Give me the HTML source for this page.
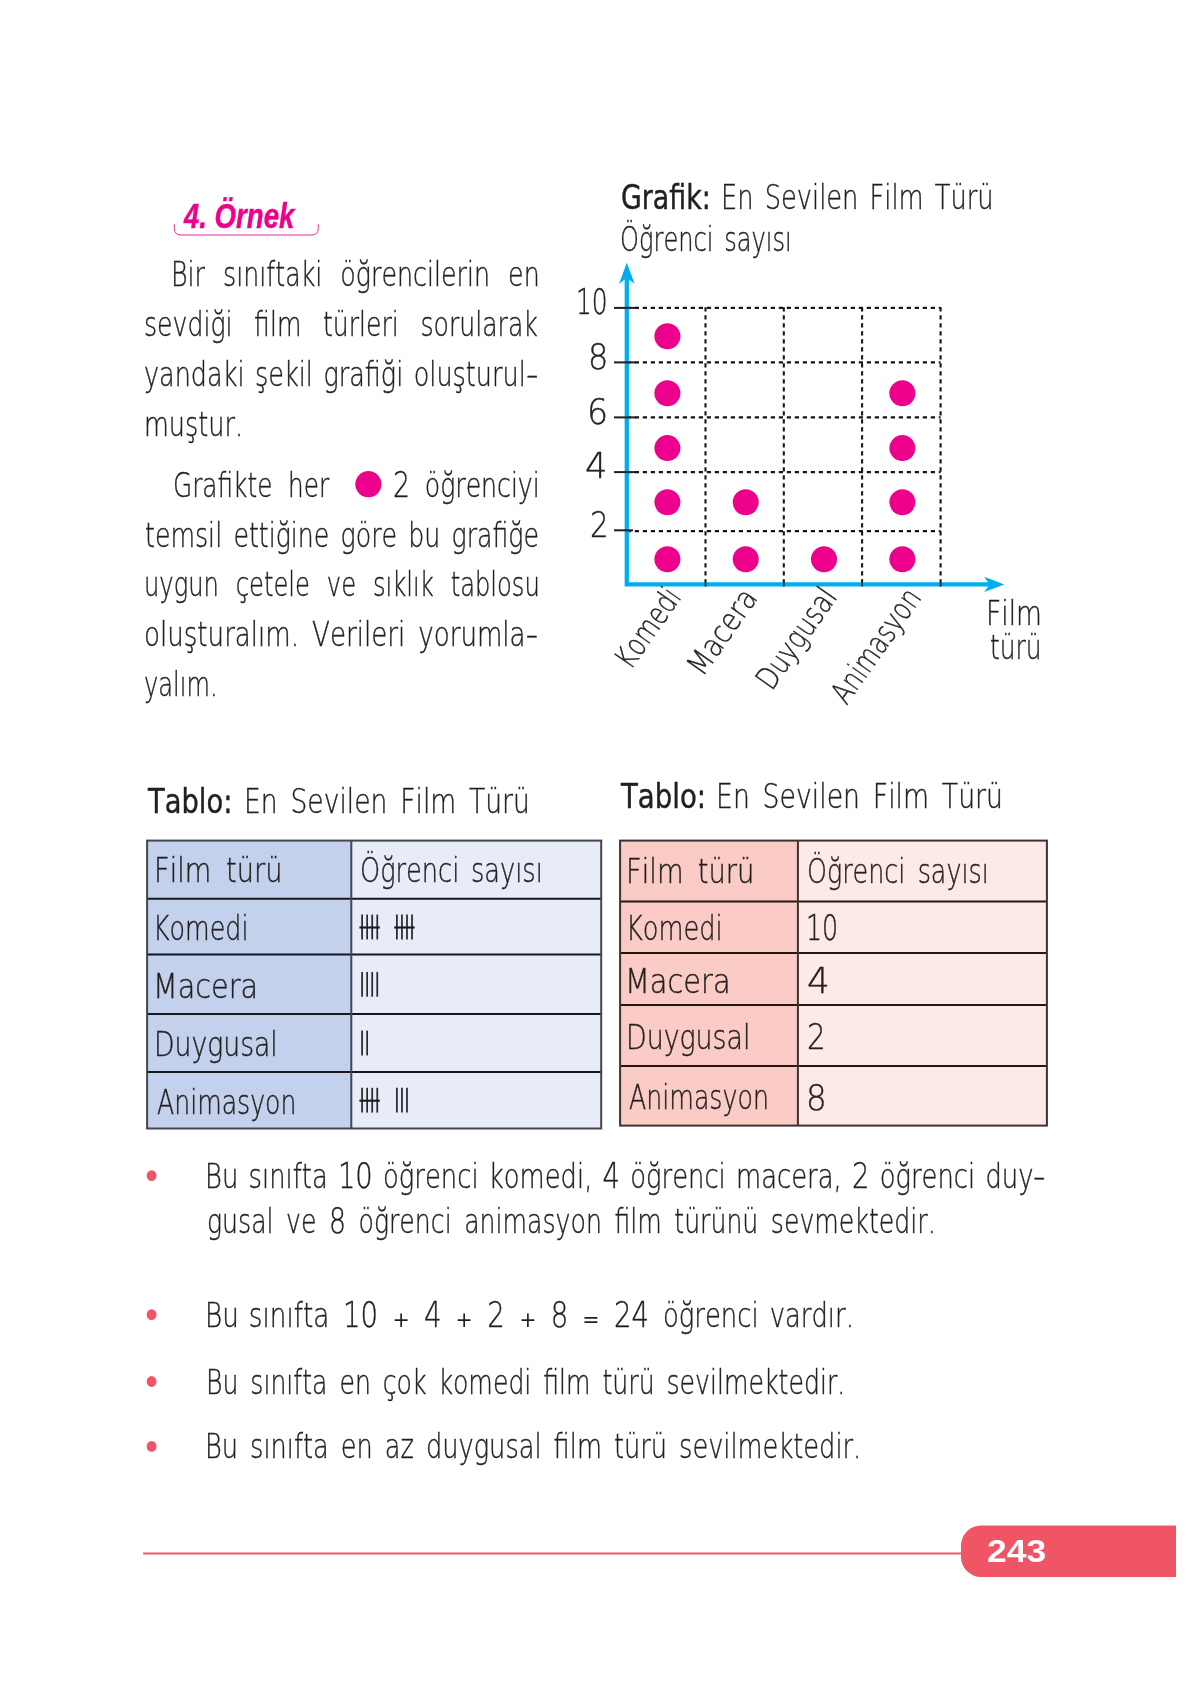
<!DOCTYPE html>
<html lang="tr"><head><meta charset="utf-8"><title>4. Örnek</title>
<style>
html,body{margin:0;padding:0;background:#fff}
#page{position:relative;width:1190px;height:1684px;overflow:hidden;background:#fff}
#page svg{position:absolute;left:0;top:0}
#txt{position:absolute;left:0;top:0;width:1190px;height:1684px;will-change:transform}
.t{position:absolute;white-space:pre;line-height:normal;transform-origin:0 0;color:#231f20;font-kerning:none}
.light{-webkit-text-stroke:0.4px #231f20}
.head{-webkit-text-stroke:0.45px #ec008c}
.book{-webkit-text-stroke:0.45px #231f20}
.light{font-family:'DejaVu Sans Light','DejaVu Sans',sans-serif;font-weight:200}
.book{font-family:'DejaVu Sans',sans-serif;font-weight:400}
.head{font-family:'Liberation Sans',sans-serif;font-weight:700;font-style:italic}
.num{font-family:'Liberation Sans',sans-serif;font-weight:700}
.d{font-size:35px}
.hy{display:inline-block;transform:scaleX(1.35);transform-origin:86% 50%;margin-left:3.5px}
.op{font-family:'DejaVu Sans',sans-serif;font-weight:400;-webkit-text-stroke:0;font-size:21.5px;display:inline-block;transform:scaleX(1.22);position:relative;top:-0.1px}
.dash{stroke:#161616;stroke-width:2.1;stroke-dasharray:4.2 3.8}
</style></head>
<body><div id="page">
<svg width="1190" height="1684" viewBox="0 0 1190 1684">
<rect x="147.1" y="840.6" width="204.20000000000002" height="287.9" fill="#c3d1ed"/>
<rect x="351.3" y="840.6" width="249.90000000000003" height="287.9" fill="#e8ecf8"/>
<line x1="147.1" y1="898.7" x2="601.2" y2="898.7" stroke="#17171d" stroke-width="2"/>
<line x1="147.1" y1="954.4" x2="601.2" y2="954.4" stroke="#17171d" stroke-width="2"/>
<line x1="147.1" y1="1014.1" x2="601.2" y2="1014.1" stroke="#17171d" stroke-width="2"/>
<line x1="147.1" y1="1072.0" x2="601.2" y2="1072.0" stroke="#17171d" stroke-width="2"/>
<line x1="351.3" y1="840.6" x2="351.3" y2="1128.5" stroke="#45464c" stroke-width="2"/>
<rect x="147.1" y="840.6" width="454.1" height="287.9" fill="none" stroke="#45464c" stroke-width="2"/>
<rect x="620.1" y="840.6" width="177.79999999999995" height="284.9999999999999" fill="#fbcbc6"/>
<rect x="797.9" y="840.6" width="249.0000000000001" height="284.9999999999999" fill="#fde9e6"/>
<line x1="620.1" y1="901.5" x2="1046.9" y2="901.5" stroke="#231616" stroke-width="2"/>
<line x1="620.1" y1="953.1" x2="1046.9" y2="953.1" stroke="#231616" stroke-width="2"/>
<line x1="620.1" y1="1004.9" x2="1046.9" y2="1004.9" stroke="#231616" stroke-width="2"/>
<line x1="620.1" y1="1066.1" x2="1046.9" y2="1066.1" stroke="#231616" stroke-width="2"/>
<line x1="797.9" y1="840.6" x2="797.9" y2="1125.6" stroke="#3d3233" stroke-width="2"/>
<rect x="620.1" y="840.6" width="426.80000000000007" height="284.9999999999999" fill="none" stroke="#3d3233" stroke-width="2"/>
<line x1="362.10" y1="914.6" x2="362.10" y2="939.4" stroke="#2d282c" stroke-width="1.75"/>
<line x1="367.15" y1="914.6" x2="367.15" y2="939.4" stroke="#2d282c" stroke-width="1.75"/>
<line x1="372.20" y1="914.6" x2="372.20" y2="939.4" stroke="#2d282c" stroke-width="1.75"/>
<line x1="377.25" y1="914.6" x2="377.25" y2="939.4" stroke="#2d282c" stroke-width="1.75"/>
<line x1="359.40" y1="927.5" x2="379.85" y2="927.5" stroke="#1c181b" stroke-width="2.1"/>
<line x1="396.90" y1="914.6" x2="396.90" y2="939.4" stroke="#2d282c" stroke-width="1.75"/>
<line x1="401.95" y1="914.6" x2="401.95" y2="939.4" stroke="#2d282c" stroke-width="1.75"/>
<line x1="407.00" y1="914.6" x2="407.00" y2="939.4" stroke="#2d282c" stroke-width="1.75"/>
<line x1="412.05" y1="914.6" x2="412.05" y2="939.4" stroke="#2d282c" stroke-width="1.75"/>
<line x1="394.20" y1="927.5" x2="414.65" y2="927.5" stroke="#1c181b" stroke-width="2.1"/>
<line x1="362.10" y1="971.9" x2="362.10" y2="996.6999999999999" stroke="#2d282c" stroke-width="1.75"/>
<line x1="367.15" y1="971.9" x2="367.15" y2="996.6999999999999" stroke="#2d282c" stroke-width="1.75"/>
<line x1="372.20" y1="971.9" x2="372.20" y2="996.6999999999999" stroke="#2d282c" stroke-width="1.75"/>
<line x1="377.25" y1="971.9" x2="377.25" y2="996.6999999999999" stroke="#2d282c" stroke-width="1.75"/>
<line x1="362.10" y1="1030.6" x2="362.10" y2="1055.3999999999999" stroke="#2d282c" stroke-width="1.75"/>
<line x1="367.15" y1="1030.6" x2="367.15" y2="1055.3999999999999" stroke="#2d282c" stroke-width="1.75"/>
<line x1="362.10" y1="1087.8" x2="362.10" y2="1112.6" stroke="#2d282c" stroke-width="1.75"/>
<line x1="367.15" y1="1087.8" x2="367.15" y2="1112.6" stroke="#2d282c" stroke-width="1.75"/>
<line x1="372.20" y1="1087.8" x2="372.20" y2="1112.6" stroke="#2d282c" stroke-width="1.75"/>
<line x1="377.25" y1="1087.8" x2="377.25" y2="1112.6" stroke="#2d282c" stroke-width="1.75"/>
<line x1="359.40" y1="1100.7" x2="379.85" y2="1100.7" stroke="#1c181b" stroke-width="2.1"/>
<line x1="396.90" y1="1087.8" x2="396.90" y2="1112.6" stroke="#2d282c" stroke-width="1.75"/>
<line x1="401.95" y1="1087.8" x2="401.95" y2="1112.6" stroke="#2d282c" stroke-width="1.75"/>
<line x1="407.00" y1="1087.8" x2="407.00" y2="1112.6" stroke="#2d282c" stroke-width="1.75"/>
<line x1="626.8" y1="307.9" x2="940.6" y2="307.9" class="dash"/>
<line x1="626.8" y1="362.4" x2="940.6" y2="362.4" class="dash"/>
<line x1="626.8" y1="417.4" x2="940.6" y2="417.4" class="dash"/>
<line x1="626.8" y1="472.1" x2="940.6" y2="472.1" class="dash"/>
<line x1="626.8" y1="531.1" x2="940.6" y2="531.1" class="dash"/>
<line x1="705.5" y1="307.2" x2="705.5" y2="586.4" class="dash"/>
<line x1="783.8" y1="307.2" x2="783.8" y2="586.4" class="dash"/>
<line x1="862.1" y1="307.2" x2="862.1" y2="586.4" class="dash"/>
<line x1="940.6" y1="307.2" x2="940.6" y2="586.4" class="dash"/>
<path d="M626.8 276 V584.4 H992" fill="none" stroke="#00aeef" stroke-width="4.3" stroke-linejoin="miter"/>
<path d="M626.8 262.8 L634.5999999999999 283.8 L626.8 278 L619.0 283.8 Z" fill="#00aeef"/>
<path d="M1004.4 584.4 L984.2 592.0 L989.6 584.4 L984.2 576.8 Z" fill="#00aeef"/>
<line x1="705.5" y1="582.1999999999999" x2="705.5" y2="586.6" stroke="#231f20" stroke-width="1.7"/>
<line x1="783.8" y1="582.1999999999999" x2="783.8" y2="586.6" stroke="#231f20" stroke-width="1.7"/>
<line x1="862.1" y1="582.1999999999999" x2="862.1" y2="586.6" stroke="#231f20" stroke-width="1.7"/>
<line x1="940.6" y1="582.1999999999999" x2="940.6" y2="586.6" stroke="#231f20" stroke-width="1.7"/>
<line x1="614" y1="307.9" x2="636" y2="307.9" stroke="#231f20" stroke-width="2"/>
<line x1="614" y1="362.4" x2="636" y2="362.4" stroke="#231f20" stroke-width="2"/>
<line x1="614" y1="417.4" x2="636" y2="417.4" stroke="#231f20" stroke-width="2"/>
<line x1="614" y1="472.1" x2="636" y2="472.1" stroke="#231f20" stroke-width="2"/>
<line x1="614" y1="530.3000000000001" x2="633" y2="530.3000000000001" stroke="#231f20" stroke-width="2"/>
<circle cx="667.4" cy="559.3" r="13" fill="#ec008c"/>
<circle cx="667.4" cy="502.2" r="13" fill="#ec008c"/>
<circle cx="667.4" cy="448.1" r="13" fill="#ec008c"/>
<circle cx="667.4" cy="393.2" r="13" fill="#ec008c"/>
<circle cx="667.4" cy="336.2" r="13" fill="#ec008c"/>
<circle cx="745.7" cy="559.3" r="13" fill="#ec008c"/>
<circle cx="745.7" cy="502.2" r="13" fill="#ec008c"/>
<circle cx="824.0" cy="559.3" r="13" fill="#ec008c"/>
<circle cx="902.4" cy="559.3" r="13" fill="#ec008c"/>
<circle cx="902.4" cy="502.2" r="13" fill="#ec008c"/>
<circle cx="902.4" cy="448.1" r="13" fill="#ec008c"/>
<circle cx="902.4" cy="393.2" r="13" fill="#ec008c"/>
<circle cx="368.4" cy="484.2" r="13.1" fill="#ec008c"/>
<path d="M174.4 224.3 V228.4 Q174.4 235 181 235 H311.7 Q318.3 235 318.3 228.4 V224.3" fill="none" stroke="#ee2a9b" stroke-width="1"/>
<ellipse cx="151.6" cy="1175.6" rx="4.9" ry="5.4" fill="#ef5564"/>
<ellipse cx="151.6" cy="1314.6" rx="4.9" ry="5.4" fill="#ef5564"/>
<ellipse cx="151.6" cy="1381.5" rx="4.9" ry="5.4" fill="#ef5564"/>
<ellipse cx="151.6" cy="1446.4" rx="4.9" ry="5.4" fill="#ef5564"/>
<line x1="143.1" y1="1553.5" x2="965" y2="1553.5" stroke="#ef5564" stroke-width="2"/>
<path d="M981 1525.6 H1176 V1576.9 H981 A20 20 0 0 1 961 1556.9 V1545.6 A20 20 0 0 1 981 1525.6 Z" fill="#ef5564"/>
</svg>
<div id="txt">
<div class="t head" style="left:183.98px;top:196.30px;transform:scaleX(0.7783);font-size:35.5px;color:#ec008c"><span class="d">4</span>. Örnek</div>
<div class="t light" style="left:170.93px;top:254.70px;transform:scaleX(0.7669);font-size:33px;word-spacing:13.01px">Bir sınıftaki öğrencilerin en</div>
<div class="t light" style="left:143.68px;top:304.60px;transform:scaleX(0.7620);font-size:33px;word-spacing:17.82px">sevdiği film türleri sorularak</div>
<div class="t light" style="left:144.43px;top:354.70px;transform:scaleX(0.7725);font-size:33px;word-spacing:3.10px">yandaki şekil grafiği oluşturul<span class="hy">-</span></div>
<div class="t light" style="left:143.58px;top:404.80px;transform:scaleX(0.7733);font-size:33px">muştur.</div>
<div class="t light" style="left:172.50px;top:465.60px;transform:scaleX(0.7499);font-size:33px;word-spacing:10.47px">Grafikte her</div>
<div class="t light" style="left:393.08px;top:464.60px;transform:scaleX(0.7623);font-size:33px;word-spacing:8.94px"><span class="d">2</span> öğrenciyi</div>
<div class="t light" style="left:145.14px;top:515.50px;transform:scaleX(0.7644);font-size:33px;word-spacing:4.21px">temsil ettiğine göre bu grafiğe</div>
<div class="t light" style="left:143.70px;top:565.10px;transform:scaleX(0.7332);font-size:33px;word-spacing:12.58px">uygun çetele ve sıklık tablosu</div>
<div class="t light" style="left:144.32px;top:615.20px;transform:scaleX(0.7909);font-size:33px;word-spacing:5.93px">oluşturalım. Verileri yorumla<span class="hy">-</span></div>
<div class="t light" style="left:144.27px;top:665.10px;transform:scaleX(0.7304);font-size:33px">yalım.</div>
<div class="t book" style="left:620.99px;top:177.70px;transform:scaleX(0.8130);font-size:33px">Grafik:</div>
<div class="t light" style="left:721.18px;top:177.70px;transform:scaleX(0.7790);font-size:33px;word-spacing:3.77px">En Sevilen Film Türü</div>
<div class="t light" style="left:620.34px;top:219.70px;transform:scaleX(0.7309);font-size:33px;word-spacing:4.18px">Öğrenci sayısı</div>
<div class="t light" style="left:575.77px;top:281.90px;transform:scaleX(0.7103);font-size:35px">10</div>
<div class="t light" style="left:588.46px;top:336.60px;transform:scaleX(0.9117);font-size:35px">8</div>
<div class="t light" style="left:586.56px;top:391.60px;transform:scaleX(0.9463);font-size:35px">6</div>
<div class="t light" style="left:585.29px;top:445.90px;transform:scaleX(1.0098);font-size:35px">4</div>
<div class="t light" style="left:589.63px;top:505.00px;transform:scaleX(0.8346);font-size:35px">2</div>
<div class="t light" style="left:985.98px;top:594.30px;transform:scaleX(0.8055);font-size:33px">Film</div>
<div class="t light" style="left:990.25px;top:628.40px;transform:scaleX(0.7543);font-size:33px">türü</div>
<div class="t light" style="left:606.54px;top:654.42px;transform:rotate(-55deg) scaleX(0.7695);font-size:31px">Komedi</div>
<div class="t light" style="left:678.98px;top:660.87px;transform:rotate(-55deg) scaleX(0.8564);font-size:31px">Macera</div>
<div class="t light" style="left:748.26px;top:675.44px;transform:rotate(-55deg) scaleX(0.8043);font-size:31px">Duygusal</div>
<div class="t light" style="left:823.04px;top:689.37px;transform:rotate(-55deg) scaleX(0.7668);font-size:31px">Animasyon</div>
<div class="t book" style="left:148.23px;top:782.00px;transform:scaleX(0.8295);font-size:33px">Tablo:</div>
<div class="t light" style="left:243.68px;top:782.00px;transform:scaleX(0.8060);font-size:33px;word-spacing:5.36px">En Sevilen Film Türü</div>
<div class="t light" style="left:153.60px;top:851.20px;transform:scaleX(0.8253);font-size:33px;word-spacing:7.29px">Film türü</div>
<div class="t light" style="left:153.06px;top:908.90px;transform:scaleX(0.7674);font-size:33px">Komedi</div>
<div class="t light" style="left:152.56px;top:966.70px;transform:scaleX(0.8686);font-size:33px">Macera</div>
<div class="t light" style="left:153.67px;top:1025.20px;transform:scaleX(0.8082);font-size:33px">Duygusal</div>
<div class="t light" style="left:156.90px;top:1082.90px;transform:scaleX(0.7625);font-size:33px">Animasyon</div>
<div class="t light" style="left:359.95px;top:851.20px;transform:scaleX(0.7766);font-size:33px;word-spacing:4.55px">Öğrenci sayısı</div>
<div class="t book" style="left:620.94px;top:777.00px;transform:scaleX(0.8356);font-size:33px">Tablo:</div>
<div class="t light" style="left:715.96px;top:777.00px;transform:scaleX(0.8099);font-size:33px;word-spacing:5.26px">En Sevilen Film Türü</div>
<div class="t light" style="left:626.09px;top:851.80px;transform:scaleX(0.8277);font-size:33px;word-spacing:6.74px">Film türü</div>
<div class="t light" style="left:625.52px;top:908.90px;transform:scaleX(0.7769);font-size:33px">Komedi</div>
<div class="t light" style="left:625.04px;top:961.90px;transform:scaleX(0.8730);font-size:33px">Macera</div>
<div class="t light" style="left:626.15px;top:1017.80px;transform:scaleX(0.8123);font-size:33px">Duygusal</div>
<div class="t light" style="left:629.40px;top:1078.30px;transform:scaleX(0.7652);font-size:33px">Animasyon</div>
<div class="t light" style="left:806.86px;top:851.70px;transform:scaleX(0.7681);font-size:33px;word-spacing:5.69px">Öğrenci sayısı</div>
<div class="t light" style="left:806.24px;top:908.30px;transform:scaleX(0.7205);font-size:35px">10</div>
<div class="t light" style="left:807.07px;top:960.80px;transform:scaleX(1.0256);font-size:35px">4</div>
<div class="t light" style="left:806.73px;top:1017.30px;transform:scaleX(0.8346);font-size:35px">2</div>
<div class="t light" style="left:805.61px;top:1077.70px;transform:scaleX(0.9305);font-size:35px">8</div>
<div class="t light" style="left:205.47px;top:1155.90px;transform:scaleX(0.7823);font-size:33px;word-spacing:2.61px">Bu sınıfta <span class="d">10</span> öğrenci komedi, <span class="d">4</span> öğrenci macera, <span class="d">2</span> öğrenci duy<span class="hy">-</span></div>
<div class="t light" style="left:207.07px;top:1201.20px;transform:scaleX(0.7631);font-size:33px;word-spacing:5.88px">gusal ve <span class="d">8</span> öğrenci animasyon film türünü sevmektedir.</div>
<div class="t light" style="left:205.41px;top:1295.50px;transform:scaleX(0.7963);font-size:33px;word-spacing:2.04px">Bu sınıfta</div>
<div class="t light" style="left:343.34px;top:1294.60px;transform:scaleX(0.7870);font-size:35px;word-spacing:9.00px">10 <span class="op">+</span> 4 <span class="op">+</span> 2 <span class="op">+</span> 8 <span class="op">=</span> 24</div>
<div class="t light" style="left:663.13px;top:1295.50px;transform:scaleX(0.7834);font-size:33px;word-spacing:3.61px">öğrenci vardır.</div>
<div class="t light" style="left:205.55px;top:1362.60px;transform:scaleX(0.7630);font-size:33px;word-spacing:5.05px">Bu sınıfta en çok komedi film türü sevilmektedir.</div>
<div class="t light" style="left:205.49px;top:1426.50px;transform:scaleX(0.7776);font-size:33px;word-spacing:4.93px">Bu sınıfta en az duygusal film türü sevilmektedir.</div>
<div class="t num" style="left:987.04px;top:1534.10px;transform:scaleX(1.1609);font-size:30.5px;color:#fff">243</div>
</div>
</div></body></html>
